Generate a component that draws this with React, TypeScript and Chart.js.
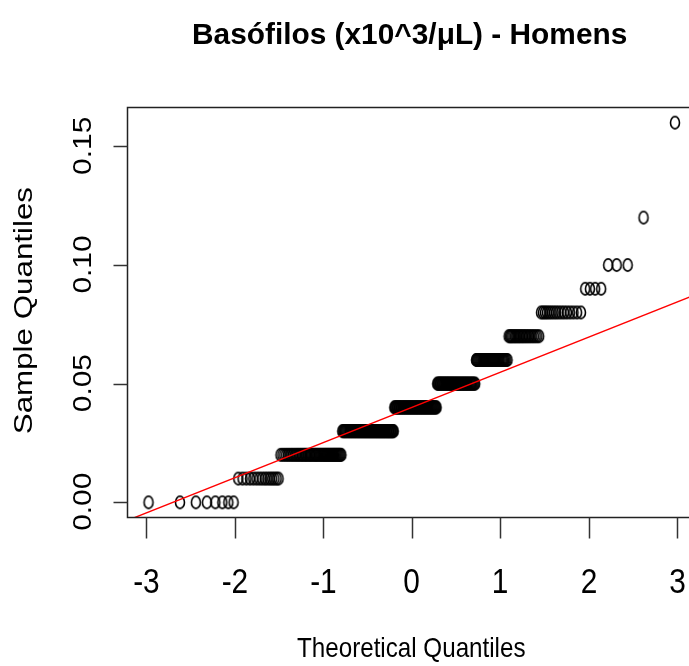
import React, { useEffect, useRef } from "react";
import { Chart, registerables } from "chart.js";

Chart.register(...registerables);

// Basophil counts (x10^3/µL), men: distinct measured values and how often each occurs
const SAMPLE_VALUES = [0.0, 0.01, 0.02, 0.03, 0.04, 0.05, 0.06, 0.07, 0.08, 0.09, 0.1, 0.12, 0.16];
const SAMPLE_COUNTS = [8, 15, 50, 70, 65, 52, 33, 22, 16, 4, 3, 1, 1];

const X_TICKS = [-3, -2, -1, 0, 1, 2, 3];
const X_TICK_LABELS = ["-3", "-2", "-1", "0", "1", "2", "3"];
const Y_TICKS = [0, 0.05, 0.1, 0.15];
const Y_TICK_LABELS = ["0.00", "0.05", "0.10", "0.15"];

const TITLE = "Basófilos (x10^3/μL) - Homens";
const X_TITLE = "Theoretical Quantiles";
const Y_TITLE = "Sample Quantiles";

const FAMILY = '"Liberation Sans", Arial, Helvetica, sans-serif';

// Inverse of the standard normal CDF (Acklam's rational approximation)
function qnorm(p: number): number {
  const a = [-3.969683028665376e1, 2.209460984245205e2, -2.759285104469687e2, 1.38357751867269e2, -3.066479806614716e1, 2.506628277459239];
  const b = [-5.447609879822406e1, 1.615858368580409e2, -1.556989798598866e2, 6.680131188771972e1, -1.328068155288572e1];
  const c = [-7.784894002430293e-3, -3.223964580411365e-1, -2.400758277161838, -2.549732539343734, 4.374664141464968, 2.938163982698783];
  const d = [7.784695709041462e-3, 3.224671290700398e-1, 2.445134137142996, 3.754408661907416];
  const pl = 0.02425;
  if (p < pl) {
    const q = Math.sqrt(-2 * Math.log(p));
    return (((((c[0] * q + c[1]) * q + c[2]) * q + c[3]) * q + c[4]) * q + c[5]) / ((((d[0] * q + d[1]) * q + d[2]) * q + d[3]) * q + 1);
  }
  if (p > 1 - pl) {
    const q = Math.sqrt(-2 * Math.log(1 - p));
    return -(((((c[0] * q + c[1]) * q + c[2]) * q + c[3]) * q + c[4]) * q + c[5]) / ((((d[0] * q + d[1]) * q + d[2]) * q + d[3]) * q + 1);
  }
  const q = p - 0.5;
  const r = q * q;
  return ((((((a[0] * r + a[1]) * r + a[2]) * r + a[3]) * r + a[4]) * r + a[5]) * q) / (((((b[0] * r + b[1]) * r + b[2]) * r + b[3]) * r + b[4]) * r + 1);
}

// Sorted sample expanded from the value/count table
function sortedSample(): number[] {
  const out: number[] = [];
  SAMPLE_VALUES.forEach((v, i) => {
    for (let k = 0; k < SAMPLE_COUNTS[i]; k++) out.push(v);
  });
  return out.sort((p, q) => p - q);
}

// Type-7 sample quantile
function quantile(sorted: number[], prob: number): number {
  const h = (sorted.length - 1) * prob;
  const lo = Math.floor(h);
  const hi = Math.ceil(h);
  return sorted[lo] + (h - lo) * (sorted[hi] - sorted[lo]);
}

function makeCirclePoint(): HTMLCanvasElement {
  const cv = document.createElement("canvas");
  cv.width = 14;
  cv.height = 18;
  const g = cv.getContext("2d")!;
  g.save();
  g.translate(7, 9);
  g.scale(1, 1.36);
  g.beginPath();
  g.arc(0, 0, 4.5, 0, Math.PI * 2);
  g.restore();
  g.lineWidth = 1.6;
  g.strokeStyle = "#000";
  g.stroke();
  return cv;
}

// Draws text so that its glyphs occupy a given cap height and ink width, centred on cx
function fitText(
  ctx: CanvasRenderingContext2D,
  text: string,
  weight: string,
  capH: number,
  inkW: number,
  cx: number,
  baseY: number
) {
  const fs = capH / 0.716;
  ctx.font = `${weight} ${fs}px ${FAMILY}`;
  ctx.textAlign = "left";
  ctx.textBaseline = "alphabetic";
  const m = ctx.measureText(text);
  const ink = m.actualBoundingBoxLeft + m.actualBoundingBoxRight;
  const sx = inkW / ink;
  ctx.save();
  ctx.translate(cx - inkW / 2, baseY);
  ctx.scale(sx, 1);
  ctx.fillText(text, m.actualBoundingBoxLeft, 0);
  ctx.restore();
}

function fitTextScaled(
  ctx: CanvasRenderingContext2D,
  text: string,
  capH: number,
  sx: number,
  cx: number,
  baseY: number
) {
  const fs = capH / 0.716;
  ctx.font = `normal ${fs}px ${FAMILY}`;
  ctx.textAlign = "left";
  ctx.textBaseline = "alphabetic";
  const m = ctx.measureText(text);
  const ink = (m.actualBoundingBoxLeft + m.actualBoundingBoxRight) * sx;
  ctx.save();
  ctx.translate(cx - ink / 2, baseY);
  ctx.scale(sx, 1);
  ctx.fillText(text, m.actualBoundingBoxLeft, 0);
  ctx.restore();
}

const frameAndAxes = {
  id: "frameAndAxes",
  afterDraw(chart: any) {
    const { ctx, chartArea: a, scales } = chart;
    const xs = scales.x;
    const ys = scales.y;
    ctx.save();
    ctx.fillStyle = "#000";

    // plot frame
    ctx.strokeStyle = "#222";
    ctx.lineWidth = 1.5;
    ctx.strokeRect(a.left, a.top, a.right - a.left, a.bottom - a.top);

    // bottom axis
    ctx.lineWidth = 1.5;
    ctx.strokeStyle = "#333";
    X_TICKS.forEach((t) => {
      const px = Math.round(xs.getPixelForValue(t)) + 0.5;
      ctx.beginPath();
      ctx.moveTo(px, a.bottom);
      ctx.lineTo(px, a.bottom + 21);
      ctx.stroke();
    });
    const probe = "-3";
    ctx.font = `normal ${25 / 0.716}px ${FAMILY}`;
    const pm = ctx.measureText(probe);
    const tickSx = 24.5 / (pm.actualBoundingBoxLeft + pm.actualBoundingBoxRight);
    X_TICKS.forEach((t, i) => {
      fitTextScaled(ctx, X_TICK_LABELS[i], 25, tickSx, xs.getPixelForValue(t), 592.5);
    });

    // left axis
    Y_TICKS.forEach((t) => {
      const py = Math.round(ys.getPixelForValue(t)) + 0.5;
      ctx.beginPath();
      ctx.moveTo(a.left, py);
      ctx.lineTo(a.left - 14, py);
      ctx.stroke();
    });
    Y_TICKS.forEach((t, i) => {
      ctx.save();
      ctx.translate(90.5, ys.getPixelForValue(t));
      ctx.rotate(-Math.PI / 2);
      fitText(ctx, Y_TICK_LABELS[i], "normal", 18, 57, 0, 0);
      ctx.restore();
    });

    // titles
    fitText(ctx, TITLE, "bold", 21, 434, 410, 43.5);
    fitText(ctx, X_TITLE, "normal", 19.5, 228, 411, 657);
    ctx.save();
    ctx.translate(31.5, 310.5);
    ctx.rotate(-Math.PI / 2);
    fitText(ctx, Y_TITLE, "normal", 18.4, 245, 0, 0);
    ctx.restore();

    ctx.restore();
  },
};

export default function App() {
  const ref = useRef<HTMLCanvasElement | null>(null);

  useEffect(() => {
    if (!ref.current) return;
    const sample = sortedSample();
    const n = sample.length;
    // plotting positions (i - 0.5) / n for n > 10
    const theo = sample.map((_, i) => qnorm((i + 1 - 0.5) / n));
    const points = sample.map((v, i) => ({ x: theo[i], y: v }));

    const xLo = theo[0];
    const xHi = theo[n - 1];
    const xPad = (xHi - xLo) * 0.04;
    const yLo = sample[0];
    const yHi = sample[n - 1];
    const yPad = (yHi - yLo) * 0.04;

    // reference line through the first and third quartiles
    const q1 = quantile(sample, 0.25);
    const q3 = quantile(sample, 0.75);
    const z1 = qnorm(0.25);
    const z3 = qnorm(0.75);
    const slope = (q3 - q1) / (z3 - z1);
    const intercept = q1 - slope * z1;
    const lx0 = xLo - xPad * 2;
    const lx1 = xHi + xPad * 2;

    const chart = new Chart(ref.current, {
      type: "scatter",
      data: {
        datasets: [
          {
            label: "qqline",
            data: [
              { x: lx0, y: intercept + slope * lx0 },
              { x: lx1, y: intercept + slope * lx1 },
            ],
            showLine: true,
            borderColor: "#ff0000",
            borderWidth: 1.4,
            pointRadius: 0,
            order: 0,
            clip: 0,
          } as any,
          {
            label: "sample",
            data: points,
            pointStyle: makeCirclePoint(),
            pointRadius: 5,
            showLine: false,
            order: 1,
            clip: 0,
          } as any,
        ],
      },
      options: {
        responsive: false,
        animation: false,
        devicePixelRatio: 1,
        events: [],
        layout: { padding: { left: 127.5, top: 107.5, right: 9, bottom: 148.5 } },
        plugins: { legend: { display: false }, tooltip: { enabled: false } },
        scales: {
          x: { type: "linear", display: false, min: xLo - xPad, max: xHi + xPad },
          y: { type: "linear", display: false, min: yLo - yPad, max: yHi + yPad },
        },
      },
      plugins: [frameAndAxes],
    });
    return () => chart.destroy();
  }, []);

  return (
    <div
      style={{
        position: "fixed",
        left: 0,
        top: 0,
        width: 689,
        height: 666,
        overflow: "hidden",
        background: "#fff",
      }}
    >
      <canvas ref={ref} width={705} height={666} style={{ display: "block", width: 705, height: 666 }} />
    </div>
  );
}
